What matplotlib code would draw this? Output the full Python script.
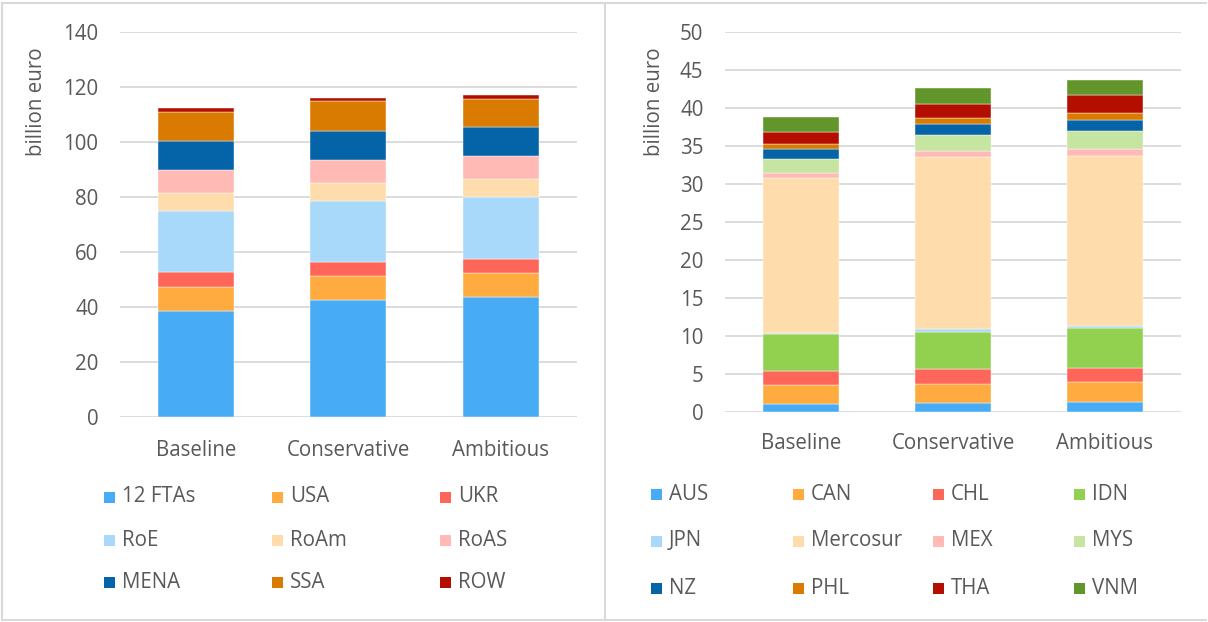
import matplotlib
matplotlib.use("Agg")
import matplotlib.pyplot as plt
from matplotlib.patches import Rectangle
from matplotlib.lines import Line2D
import numpy as np

plt.rcParams['font.family'] = ['Open Sans', 'DejaVu Sans']

scenarios = ["Baseline", "Conservative", "Ambitious"]

# Left chart: billion euro by region
left_series = ["12 FTAs", "USA", "UKR", "RoE", "RoAm", "RoAS", "MENA", "SSA", "ROW"]
ftas12 = [38.4, 42.4, 43.5]
usa = [8.8, 8.8, 8.8]
ukr = [5.3, 5.1, 5.2]
roe = [22.3, 22.2, 22.3]
roam = [6.4, 6.5, 6.6]
roas = [8.4, 8.5, 8.3]
mena = [10.7, 10.5, 10.5]
ssa = [10.6, 10.7, 10.4]
row = [1.2, 1.2, 1.5]
left_values = [ftas12, usa, ukr, roe, roam, roas, mena, ssa, row]

# Right chart: billion euro by FTA partner
right_series = ["AUS", "CAN", "CHL", "IDN", "JPN", "Mercosur", "MEX", "MYS",
                "NZ", "PHL", "THA", "VNM"]
aus = [1.05, 1.15, 1.3]
can = [2.45, 2.5, 2.55]
chl = [1.8, 1.95, 1.95]
idn = [4.9, 4.9, 5.15]
jpn = [0.15, 0.4, 0.35]
mercosur = [20.4, 22.6, 22.4]
mex = [0.7, 0.85, 0.9]
mys = [1.8, 2.1, 2.3]
nz = [1.3, 1.4, 1.5]
phl = [0.7, 0.85, 0.9]
tha = [1.5, 1.75, 2.4]
vnm = [2.0, 2.1, 2.0]
right_values = [aus, can, chl, idn, jpn, mercosur, mex, mys, nz, phl, tha, vnm]

left_colors = ["#47ACF5", "#FFAB40", "#FF665A", "#A8D8FA", "#FFDCAB",
               "#FFBAB6", "#0563A8", "#D97B00", "#B30E00"]
right_colors = ["#47ACF5", "#FFAB40", "#FF665A", "#92D050", "#A8D8FA", "#FFDCAB",
                "#FFBAB6", "#C5E5A0", "#0563A8", "#D97B00", "#B30E00", "#63962A"]

W, H = 1208, 622
fig = plt.figure(figsize=(W / 100, H / 100), dpi=100)
TXT = "#595959"
GRID = "#D9D9D9"
FS = 14.8


def fx(px):
    return px / W


def fy(py):
    return 1 - py / H


def draw(ax, series, values, colors, ymax, step):
    x = np.arange(len(scenarios))
    bottom = np.zeros(len(scenarios))
    for name, vals, c in zip(series, values, colors):
        v = np.array(vals)
        ax.bar(x, v, width=0.5, bottom=bottom, color=c, edgecolor="white",
               linewidth=0.3, zorder=3)
        bottom += v
    ax.set_xlim(-0.5, 2.5)
    ax.set_ylim(0, ymax)
    ax.set_yticks(np.arange(0, ymax + step / 2, step))
    ax.yaxis.grid(True, color=GRID, linewidth=1.3, zorder=0)
    ax.set_axisbelow(True)
    for s in ax.spines.values():
        s.set_visible(False)
    ax.tick_params(axis="both", length=0, labelsize=FS, labelcolor=TXT)
    ax.tick_params(axis="y", pad=15.5)
    ax.set_xticks(x)
    ax.set_xticklabels(scenarios)


# Left axes
axL = fig.add_axes([fx(120), fy(416.7), fx(456.7), (416.7 - 31.7) / H])
draw(axL, left_series, left_values, left_colors, 140, 20)
axL.tick_params(axis="x", pad=16.5)
fig.text(fx(37), fy(102), "billion euro", rotation=90, ha="center", va="center",
         fontsize=FS, color=TXT)

# Right axes
axR = fig.add_axes([fx(725), fy(411.7), fx(456), (411.7 - 31.7) / H])
draw(axR, right_series, right_values, right_colors, 50, 5)
axR.tick_params(axis="x", pad=15.5)
fig.text(fx(655), fy(102), "billion euro", rotation=90, ha="center", va="center",
         fontsize=FS, color=TXT)


# Legends drawn manually in a grid
def legend(series, colors, col_x, row_y, ncol):
    for i, (name, c) in enumerate(zip(series, colors)):
        r, k = divmod(i, ncol)
        mx, my = col_x[k], row_y[r]
        fig.patches.append(Rectangle((fx(mx), fy(my + 5.5)), fx(11), 11 / H,
                                     transform=fig.transFigure, facecolor=c,
                                     edgecolor="none"))
        fig.text(fx(mx + 18), fy(my), name, ha="left", va="center",
                 fontsize=FS, color=TXT)


legend(left_series, left_colors, [104, 272, 440], [497, 540, 582], 3)
legend(right_series, right_colors, [651, 793, 933, 1074], [494, 541, 588], 4)

# Panel borders
border = "#D9D9D9"
fig.lines.append(Line2D([fx(2), fx(2)], [fy(620), fy(3)], transform=fig.transFigure,
                        color=border, linewidth=1.5))
fig.lines.append(Line2D([fx(2), fx(1206)], [fy(3), fy(3)], transform=fig.transFigure,
                        color=border, linewidth=1.5))
fig.lines.append(Line2D([fx(2), fx(1206)], [fy(620), fy(620)], transform=fig.transFigure,
                        color=border, linewidth=1.5))
fig.lines.append(Line2D([fx(605), fx(605)], [fy(620), fy(3)], transform=fig.transFigure,
                        color=border, linewidth=1.5))

fig.savefig("out.png", dpi=100)
